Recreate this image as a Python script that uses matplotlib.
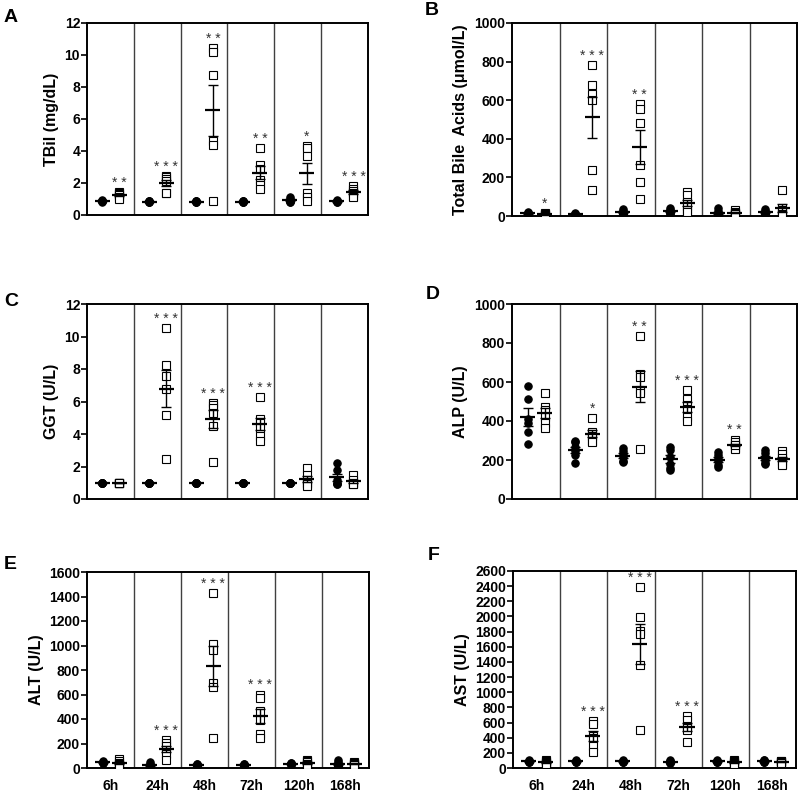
import numpy as np
import matplotlib.pyplot as plt

plt.rcParams['font.family'] = ['Liberation Sans', 'DejaVu Sans']

times = ['6h', '24h', '48h', '72h', '120h', '168h']

# A - TBil (mg/dL)
tbil_ctrl = [[0.95, 0.9, 0.9, 0.85, 0.85, 0.8], [0.9, 0.85, 0.85, 0.8, 0.8, 0.8],
             [0.9, 0.85, 0.85, 0.8, 0.8, 0.8], [0.9, 0.85, 0.85, 0.8, 0.8, 0.8],
             [1.15, 1.0, 0.9, 0.85, 0.8, 0.8], [0.95, 0.9, 0.85, 0.85, 0.8, 0.8]]
tbil_trt = [[1.45, 1.4, 1.3, 1.25, 1.15, 1.0], [2.45, 2.35, 2.25, 2.15, 1.4, 1.4],
            [10.45, 10.2, 8.75, 4.6, 4.35, 0.85], [4.2, 3.1, 2.9, 2.2, 1.9, 1.6],
            [4.3, 4.2, 3.7, 1.4, 1.1, 0.9], [1.8, 1.6, 1.5, 1.4, 1.2, 1.1]]
tbil_stars = ['**', '***', '**', '**', '*', '***']

# B - Total bile acids (umol/L)
tba_ctrl = [[22, 18, 15, 12, 10, 8], [15, 12, 10, 8, 6, 5],
            [35, 28, 20, 15, 10, 8], [40, 32, 25, 20, 15, 10],
            [40, 25, 15, 10, 8, 5], [35, 28, 22, 15, 12, 8]]
tba_trt = [[18, 12, 8, 5, 3, 2], [782, 679, 631, 602, 238, 134],
           [581, 555, 483, 262, 177, 87], [125, 110, 70, 50, 30, 20],
           [30, 22, 18, 15, 12, 8], [134, 40, 30, 20, 12, 5]]
tba_stars = ['*', '***', '**', '', '', '']

# C - GGT (U/L)
ggt_ctrl = [[1.0] * 6, [1.0] * 6, [1.0] * 6, [1.0] * 6, [1.0] * 6,
            [2.2, 1.8, 1.2, 1.0, 0.9, 0.9]]
ggt_trt = [[1.0] * 6, [10.5, 8.25, 7.55, 6.8, 5.2, 2.45],
           [5.9, 5.8, 5.6, 5.3, 4.5, 2.3], [6.3, 4.9, 4.7, 4.4, 3.85, 3.55],
           [1.9, 1.5, 1.2, 1.0, 0.9, 0.8], [1.5, 1.2, 1.0, 1.0, 0.9, 0.9]]
ggt_stars = ['', '***', '***', '***', '', '']

# D - ALP (U/L)
alp_ctrl = [[580, 515, 410, 390, 345, 282], [300, 290, 265, 245, 225, 185],
            [262, 245, 230, 215, 195, 190], [268, 250, 215, 180, 160, 150],
            [240, 225, 210, 195, 175, 165], [250, 235, 215, 200, 185, 180]]
alp_trt = [[543, 473, 455, 420, 390, 365], [415, 345, 335, 325, 300, 290],
           [836, 640, 625, 560, 545, 255], [559, 511, 480, 460, 422, 400],
           [305, 290, 275, 262, 255, 275], [245, 230, 210, 195, 180, 175]]
alp_stars = ['', '*', '**', '***', '**', '']

# E - ALT (U/L)
alt_ctrl = [[55, 50, 45, 42, 40, 38], [45, 35, 25, 20, 15, 12],
            [35, 30, 28, 25, 22, 20], [35, 30, 28, 25, 22, 20],
            [40, 38, 35, 32, 30, 28], [65, 45, 30, 25, 20, 15]]
alt_trt = [[70, 60, 40, 30, 25, 20], [225, 205, 180, 150, 115, 65],
           [1431, 1012, 963, 690, 664, 242], [600, 570, 465, 395, 280, 245],
           [65, 55, 45, 35, 30, 25], [45, 40, 35, 30, 30, 28]]
alt_stars = ['', '***', '***', '***', '', '']

# F - AST (U/L)
ast_ctrl = [[105, 95, 90, 85, 80, 75], [105, 95, 90, 85, 80, 75],
            [100, 95, 90, 85, 80, 75], [100, 90, 80, 75, 70, 65],
            [100, 95, 90, 85, 80, 75], [110, 100, 90, 85, 80, 75]]
ast_trt = [[105, 90, 80, 70, 60, 50], [615, 585, 420, 395, 295, 205],
           [2386, 1995, 1806, 1775, 1355, 505], [680, 640, 560, 530, 505, 343],
           [105, 90, 80, 70, 60, 55], [95, 90, 85, 80, 75, 70]]
ast_stars = ['', '***', '***', '***', '', '']

panels = [
    ('A', 'TBil (mg/dL)', tbil_ctrl, tbil_trt, tbil_stars, 12, 2),
    ('B', 'Total Bile  Acids (\u03bcmol/L)', tba_ctrl, tba_trt, tba_stars, 1000, 200),
    ('C', 'GGT (U/L)', ggt_ctrl, ggt_trt, ggt_stars, 12, 2),
    ('D', 'ALP (U/L)', alp_ctrl, alp_trt, alp_stars, 1000, 200),
    ('E', 'ALT (U/L)', alt_ctrl, alt_trt, alt_stars, 1600, 200),
    ('F', 'AST (U/L)', ast_ctrl, ast_trt, ast_stars, 2600, 200),
]

W, H = 800, 792
# axes boxes in pixels: left, top, right, bottom
boxes = [(87, 23, 368, 215), (512, 23, 797, 216),
         (87, 304, 368, 499), (512, 304, 797, 499),
         (87, 572, 369, 768), (513, 571, 796, 768)]
letter_pos = [(4, 9), (425, 2), (4, 293), (426, 286), (4, 556), (428, 547)]

fig = plt.figure(figsize=(8, 7.92), dpi=100)

for k, (letter, ylab, ctrl, trt, stars, ymax, ystep) in enumerate(panels):
    l, t, r, b = boxes[k]
    ax = fig.add_axes([l / W, 1 - b / H, (r - l) / W, (b - t) / H])
    for i in range(len(times)):
        for off, vals, mk, face in [(-0.17, ctrl[i], 'o', 'black'), (0.19, trt[i], 's', 'white')]:
            vals = np.array(vals, dtype=float)
            x = i + off
            ax.plot(np.full(len(vals), x), vals, linestyle='none', marker=mk,
                    markersize=5.3 if mk == 'o' else 5.5, markerfacecolor=face,
                    markeredgecolor='black', markeredgewidth=0.8, zorder=3)
            m = vals.mean()
            s = vals.std(ddof=1) / np.sqrt(len(vals))
            ax.hlines(m, x - 0.16, x + 0.16, color='black', lw=1.6, zorder=4)
            ax.errorbar(x, m, yerr=s, fmt='none', ecolor='black', elinewidth=1,
                        capsize=3.5, capthick=1, zorder=4)
        if stars[i]:
            ax.annotate(' '.join(stars[i]), (i + 0.19, max(trt[i])), xytext=(0, 1.5),
                        textcoords='offset points', ha='center', va='bottom',
                        fontsize=10, color='#333333')
    for bnd in np.arange(0.5, len(times) - 0.5):
        ax.axvline(bnd, color='#404040', lw=1, zorder=1)
    ax.set_xlim(-0.5, len(times) - 0.5)
    ax.set_ylim(0, ymax)
    ax.set_yticks(np.arange(0, ymax + 1e-9, ystep))
    ax.set_xticks(range(len(times)))
    if k >= 4:
        ax.set_xticklabels(times, fontsize=10, fontweight='bold')
    else:
        ax.set_xticklabels([])
    ax.tick_params(axis='x', length=0, pad=8)
    ax.tick_params(axis='y', length=4, width=1.2, labelsize=10, pad=1)
    for lab in ax.get_yticklabels():
        lab.set_fontweight('bold')
    for sp in ax.spines.values():
        sp.set_linewidth(1.4)
    ax.set_ylabel(ylab, fontsize=11.5, fontweight='bold', labelpad=4)
    lx, ly = letter_pos[k]
    fig.text(lx / W, 1 - ly / H, letter, fontsize=14, fontweight='bold', va='top', ha='left')

fig.savefig('out.png', dpi=100)
